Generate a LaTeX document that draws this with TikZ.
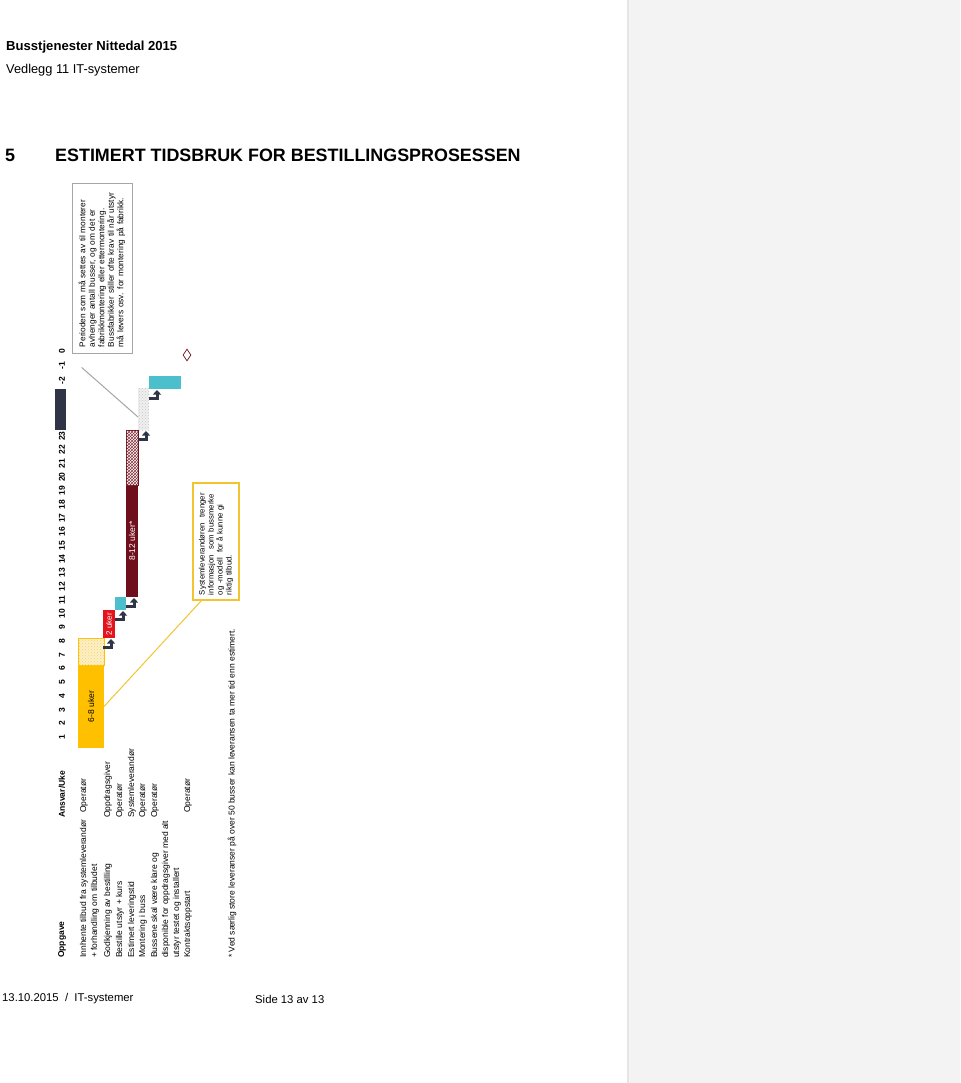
\documentclass[tikz,border=0pt]{standalone}
\usepackage{fontspec}
\setmainfont{Liberation Sans}
\usepackage{tikz}
\usetikzlibrary{calc,positioning,patterns,shapes.geometric,arrows.meta}

\definecolor{gulbar}{HTML}{FFC000}
\definecolor{gullys}{HTML}{FBF0CC}
\definecolor{rodbar}{HTML}{E3141B}
\definecolor{turkis}{HTML}{4BBFCC}
\definecolor{vinrod}{HTML}{6E0F1B}
\definecolor{marine}{HTML}{2F3447}
\definecolor{panelgra}{HTML}{F3F3F3}
\definecolor{strek}{HTML}{A6A6A6}
\definecolor{gulstrek}{HTML}{F2C530}

\tikzset{% styles for the rotated gantt table
	tabtekst/.style={rotate=90,anchor=west,inner sep=0pt,font=\fontsize{8.5}{10}\selectfont},
	tabhode/.style={tabtekst,font=\fontsize{8.5}{10}\selectfont\bfseries},
	ukenr/.style={rotate=90,inner sep=0pt,font=\fontsize{8.5}{10}\selectfont\bfseries},
	bar/.style={inner sep=0pt,outer sep=0pt,draw=none},
	barlabel/.style={rotate=90,inner sep=0pt,font=\fontsize{8.5}{10}\selectfont},
	steppil/.style={marine,line width=3pt,-{Triangle[width=8pt,length=4.5pt]}},
	notatboks/.style={rotate=90,draw=strek,line width=0.8pt,align=left,inner xsep=6pt,inner ysep=4pt,font=\fontsize{8.3}{9.5}\selectfont},
	infoboks/.style={rotate=90,draw=gulstrek,line width=1.2pt,align=left,inner xsep=5pt,inner ysep=4pt,font=\fontsize{7.8}{9}\selectfont}
}

\begin{document}
\begin{tikzpicture}[x=1pt,y=-1pt]
\useasboundingbox (0,0) rectangle (960,1083);
\fill[white] (0,0) rectangle (627,1083);
\fill[panelgra] (627,0) rectangle (960,1083);
\draw[gray!20,line width=1.5pt] (628,0) -- (628,1083);

% page header and footer
\node[anchor=west,inner sep=0pt,font=\fontsize{13.1}{15}\selectfont\bfseries] (dokument) at (6,47) {Busstjenester Nittedal 2015};
\node[anchor=west,inner sep=0pt,font=\fontsize{12.8}{15}\selectfont] (vedlegg) at (6,70) {Vedlegg 11 IT-systemer};
\node[anchor=west,inner sep=0pt,font=\fontsize{17.9}{20}\selectfont\bfseries] (kapnr) at (5,155) {5};
\node[anchor=west,inner sep=0pt,font=\fontsize{17.9}{20}\selectfont\bfseries] (kapittel) at (55,155) {ESTIMERT TIDSBRUK FOR BESTILLINGSPROSESSEN};
\node[anchor=west,inner sep=0pt,font=\fontsize{11.3}{13}\selectfont] (dato) at (2,999) {13.10.2015\ \ /\ \ IT-systemer};
\node[anchor=west,inner sep=0pt,font=\fontsize{11.3}{13}\selectfont] (side) at (255,999) {Side 13 av 13};

% header row
\node[tabhode] (oppgave) at (62,958) {Oppgave};
\node[tabhode] (ansvar) at (62,818) {Ansvar/Uke};
\foreach \w in {1,...,23}
	\node[ukenr] (uke\w) at (62,{737-(\w-1)*13.68}) {\w};
\node[ukenr] (ukem2) at (62,381) {-2};
\node[ukenr] (ukem1) at (62,366) {-1};
\node[ukenr] (uke0) at (62,351) {0};
\node[bar,fill=marine,minimum width=11pt,minimum height=41pt] (pause) at (60.5,409.5) {};

% tasks
\node[tabtekst] (t1a) at (84,958) {Innhente tilbud fra systemleverandør};
\node[tabtekst] (t1b) at (95,958) {+ forhandling om tilbudet};
\node[tabtekst] (t2) at (108,958) {Godkjenning av bestilling};
\node[tabtekst] (t3) at (120,958) {Bestille utstyr + kurs};
\node[tabtekst] (t4) at (132,958) {Estimert leveringstid};
\node[tabtekst] (t5) at (143,958) {Montering i buss};
\node[tabtekst] (t6a) at (155,958) {Bussene skal være klare og};
\node[tabtekst] (t6b) at (166,958) {disponible for oppdragsgiver med alt};
\node[tabtekst] (t6c) at (177,958) {utstyr testet og installert};
\node[tabtekst] (t7) at (188,958) {Kontraktsoppstart};

\node[tabtekst] (a1) at (84,813) {Operatør};
\node[tabtekst] (a2) at (108,818) {Oppdragsgiver};
\node[tabtekst] (a3) at (120,818) {Operatør};
\node[tabtekst] (a4) at (132,818) {Systemleverandør};
\node[tabtekst] (a5) at (143,818) {Operatør};
\node[tabtekst] (a6) at (155,818) {Operatør};
\node[tabtekst] (a7) at (188,813) {Operatør};

% bars
\node[bar,fill=gulbar,minimum width=26pt,minimum height=83pt] (tilbud) at (91,706.5) {};
\node[bar,draw=gulbar,line width=0.6pt,fill=gullys,postaction={pattern=crosshatch dots,pattern color=gulbar!70},minimum width=26pt,minimum height=27pt] (tilbudekstra) at (91,651.5) {};
\node[barlabel] at (tilbud) {6-8 uker};
\node[bar,fill=rodbar,minimum width=12pt,minimum height=28pt] (godkj) at (109,624) {};
\node[barlabel,text=white,font=\fontsize{8}{9}\selectfont] at (godkj) {2 uker};
\node[bar,fill=turkis,minimum width=11pt,minimum height=13pt] (bestille) at (120.5,603.5) {};
\node[bar,fill=vinrod,minimum width=12pt,minimum height=112pt] (leveranse) at (132,541) {};
\node[bar,draw=vinrod,line width=0.6pt,fill=white,postaction={pattern=crosshatch,pattern color=vinrod!85},minimum width=12pt,minimum height=55pt] (leveranseekstra) at (132,457.5) {};
\node[barlabel,text=white] at (leveranse) {8-12 uker*};
\node[bar,fill=gray!12,postaction={pattern=crosshatch dots,pattern color=gray!45},minimum width=11pt,minimum height=42pt] (montering) at (143.5,409) {};
\node[bar,fill=turkis,minimum width=32pt,minimum height=13pt] (klar) at (165,382.5) {};
\node[diamond,draw=vinrod,fill=white,line width=0.7pt,inner sep=0pt,minimum width=8pt,minimum height=12pt] (oppstart) at (187,355) {};

% step arrows
\draw[steppil] ($(godkj.south west)+(0,9)$) -| ($(godkj.south west)+(8,1)$);
\draw[steppil] ($(bestille.south west)+(0,9)$) -| ($(bestille.south west)+(8,1)$);
\draw[steppil] ($(leveranse.south west)+(0,9)$) -| ($(leveranse.south west)+(8,1)$);
\draw[steppil] ($(montering.south west)+(0,9)$) -| ($(montering.south west)+(8,1)$);
\draw[steppil] ($(klar.south west)+(0,9)$) -| ($(klar.south west)+(8,1)$);

% notes
\node[notatboks,text width=158pt,minimum height=60pt] (periode) at (102,268) {Perioden som må settes av til monterer\\avhenger antall busser, og om det er\\fabrikkmontering eller ettermontering.\\Bussfabrikker stiller ofte krav til når utstyr\\må levers osv. for montering på fabrikk.};
\node[infoboks,text width=107pt,minimum height=46pt] (infoboks) at (216,541.5) {Systemleverandøren\ \ trenger\\informasjon\ \ som bussmerke\\og -modell\ \ for å kunne gi\\riktig tilbud.};
\draw[strek,line width=1pt] ($(periode.north west)+(10,14)$) -- ($(montering.west)+(0,8)$);
\draw[gulstrek,line width=1pt] (tilbud.east) -- ($(infoboks.north west)+(9,0)$);

\node[tabtekst] (fotnote) at (232,958) {* Ved særlig store leveranser på over 50 busser kan leveransen ta mer tid enn estimert.};
\end{tikzpicture}
\end{document}
